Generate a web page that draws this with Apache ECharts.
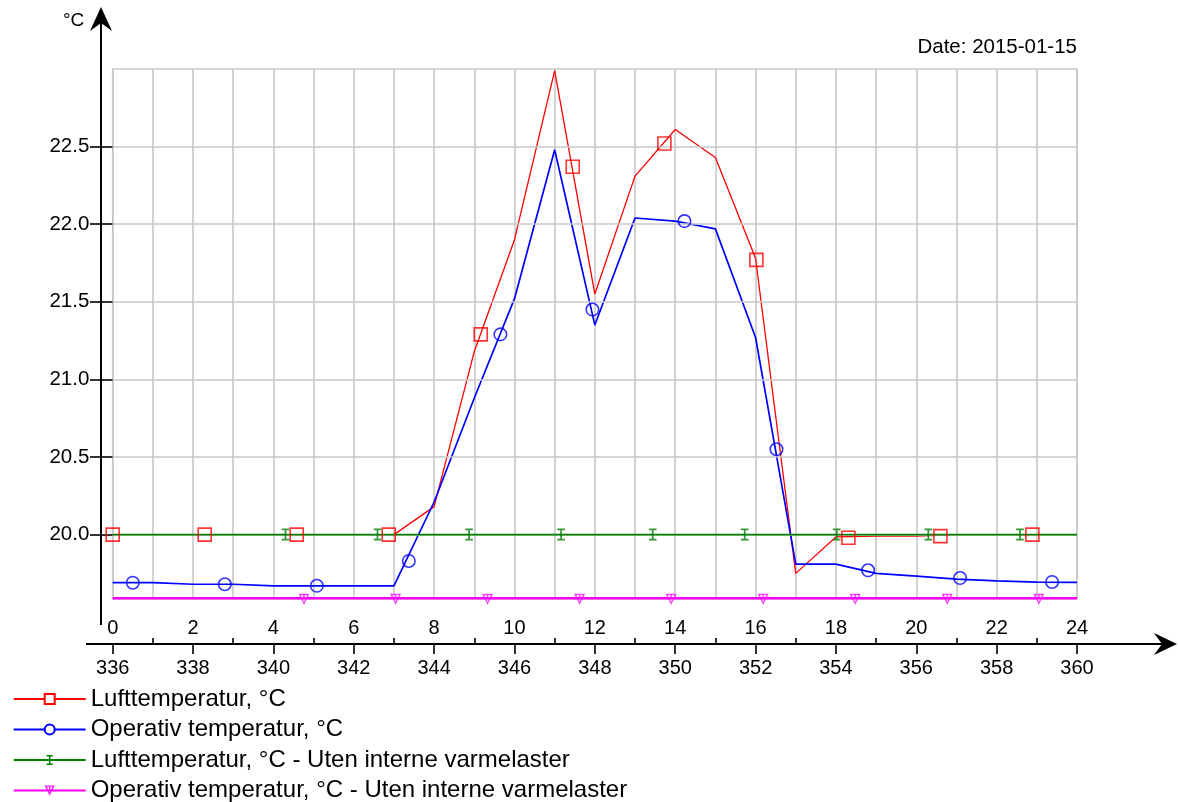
<!DOCTYPE html>
<html><head><meta charset="utf-8">
<script src="https://cdn.jsdelivr.net/npm/echarts@6/dist/echarts.min.js"></script>
<style>html,body{margin:0;padding:0;background:#fff}#c{width:1178px;height:802px}</style>
</head><body><div id="c"></div>
<script>
// ---- data ----
const hours = [0,1,2,3,4,5,6,7,8,9,10,11,12,13,14,15,16,17,18,19,20,21,22,23,24];
const lufttemp = [20.0,20.0,20.0,20.0,20.0,20.0,20.0,20.0,20.18,21.18,21.9,22.99,21.55,22.31,22.61,22.43,21.78,19.75,19.985,19.99,19.99,20.0,20.0,20.0,20.0];
const operativ = [19.69,19.69,19.68,19.68,19.67,19.67,19.67,19.67,20.21,20.88,21.52,22.48,21.35,22.04,22.02,21.97,21.27,19.81,19.81,19.75,19.733,19.713,19.702,19.694,19.692];
const lufttempUten = [20.0,20.0,20.0,20.0,20.0,20.0,20.0,20.0,20.0,20.0,20.0,20.0,20.0,20.0,20.0,20.0,20.0,20.0,20.0,20.0,20.0,20.0,20.0,20.0,20.0];
const operativUten = [19.59,19.59,19.59,19.59,19.59,19.59,19.59,19.59,19.59,19.59,19.59,19.59,19.59,19.59,19.59,19.59,19.59,19.59,19.59,19.59,19.59,19.59,19.59,19.59,19.59];

// marker positions along the curves (as drawn in the reference)
const redMarkX = [0.0,2.29,4.58,6.87,9.16,11.45,13.73,16.02,18.31,20.6,22.89];
const redMarkY = [20.0,20.0,20.0,20.0,21.29,22.37,22.52,21.77,19.98,19.99,20.0];
const blueMarkX = [0.5,2.79,5.08,7.37,9.65,11.94,14.23,16.52,18.8,21.09,23.38];
const blueMarkY = [19.69,19.68,19.67,19.83,21.29,21.45,22.02,20.55,19.77,19.72,19.695];
const greenMarkX = [4.3,6.59,8.87,11.16,13.44,15.73,18.02,20.3,22.58];
const greenMarkY = [20.0,20.0,20.0,20.0,20.0,20.0,20.0,20.0,20.0];
const magMarkX = [4.76,7.04,9.33,11.62,13.9,16.19,18.48,20.77,23.05];
const magMarkY = [19.59,19.59,19.59,19.59,19.59,19.59,19.59,19.59,19.59];

const xMajorTicks = [0,2,4,6,8,10,12,14,16,18,20,22,24];
const xMinorTicks = [1,3,5,7,9,11,13,15,17,19,21,23];
const xOffsetLabel = 336;
const yTicks = [20.0,20.5,21.0,21.5,22.0,22.5];
const yMin = 19.585, yMax = 23.0;

const names = ['Lufttemperatur, °C','Operativ temperatur, °C','Lufttemperatur, °C - Uten interne varmelaster','Operativ temperatur, °C - Uten interne varmelaster'];
const colors = ['#ff0000','#0000ff','#008000','#ff00ff'];

// ---- chart ----
const FONT = 'Liberation Sans, Arial, sans-serif';
const zip = (a,b)=>a.map((v,i)=>[v,b[i]]);
const iPath = 'path://M0,0L0.01,0M11,11L11.01,11M2,0H9V1.6H6.3V9.4H9V11H2V9.4H4.7V1.6H2Z';
const triPath = 'path://M0,0L11,0L5.5,11ZM2.2,1.2L5.5,8.2L8.8,1.2ZM4.8,1.2H6.2V5H4.8Z';

const chart = echarts.init(document.getElementById('c'), null, {renderer:'canvas'});
const gridLeft = 112.7, gridTop = 69, gridRight = 1178-1077, gridBottom = 802-599;

chart.setOption({
  animation:false,
  backgroundColor:'#fff',
  textStyle:{fontFamily:FONT},
  title:{text:'Date: 2015-01-15', right:101, top:37, padding:0,
    textStyle:{fontSize:20.5, fontWeight:'normal', color:'#000', fontFamily:FONT}},
  legend:{orient:'vertical', left:12.7, top:687, height:150, itemWidth:72, itemHeight:12.5, itemGap:6.5,
    data:names, selectedMode:false, padding:0,
    textStyle:{fontSize:24, color:'#000', fontFamily:FONT}},
  grid:{left:gridLeft, top:gridTop, right:gridRight, bottom:gridBottom, show:true,
    borderColor:'#c8c8c8', borderWidth:1.6, backgroundColor:'transparent'},
  xAxis:[
    {type:'value', min:0, max:24, position:'bottom', offset:45,
      axisLine:{show:false}, splitLine:{show:false},
      axisTick:{show:true, customValues:xMajorTicks, length:10, lineStyle:{color:'#000', width:1.6}},
      axisLabel:{show:true, customValues:xMajorTicks, margin:14, fontSize:20, color:'#000', fontFamily:FONT,
        formatter:v=>String(v+xOffsetLabel)}},
    {type:'value', min:0, max:24, position:'bottom', offset:45,
      axisLine:{show:false}, splitLine:{show:false},
      axisTick:{show:true, inside:true, customValues:xMinorTicks, length:6, lineStyle:{color:'#000', width:1.6}},
      axisLabel:{show:true, inside:true, customValues:xMajorTicks, margin:6, fontSize:20, color:'#000', fontFamily:FONT,
        formatter:v=>String(v)}},
    {type:'value', min:0, max:24, interval:1, position:'bottom',
      axisLine:{show:false}, axisTick:{show:false}, axisLabel:{show:false},
      splitLine:{show:true, lineStyle:{color:'#c8c8c8', width:1.6}}}
  ],
  yAxis:[
    {type:'value', min:yMin, max:yMax, position:'left', offset:0,
      axisLine:{show:false}, splitLine:{show:false},
      axisTick:{show:true, customValues:yTicks, length:22.7, lineStyle:{color:'#000', width:1.6}},
      axisLabel:{show:true, customValues:yTicks, margin:23.4, fontSize:20.5, color:'#000', fontFamily:FONT,
        formatter:v=>v.toFixed(1)}}
  ],
  graphic:[
    {type:'text', left:63, top:11, z:10,
      style:{text:'°C', fontSize:19, fontFamily:FONT, fill:'#000'}},
    {type:'line', shape:{x1:101, y1:625, x2:101, y2:14}, style:{stroke:'#000', lineWidth:2}, z:10},
    {type:'polygon', shape:{points:[[101,7],[90,31],[101,23],[112,31]]}, style:{fill:'#000'}, z:10},
    {type:'line', shape:{x1:86, y1:644, x2:1170, y2:644}, style:{stroke:'#000', lineWidth:2}, z:10},
    {type:'polygon', shape:{points:[[1177,644],[1154,633],[1162,644],[1154,655]]}, style:{fill:'#000'}, z:10}
  ],
  series:[
    {type:'line', name:'_grid', data:[], z:1, silent:true,
      markLine:{silent:true, symbol:['none','none'], label:{show:false},
        lineStyle:{color:'#c8c8c8', width:1.6, type:'solid'},
        data:yTicks.map(v=>({yAxis:v}))}},
    {type:'line', name:names[0], data:zip(hours,lufttemp), symbol:'emptyRect', showSymbol:false,
      lineStyle:{color:colors[0], width:1.3}, itemStyle:{color:colors[0]}, z:3},
    {type:'line', name:names[1], data:zip(hours,operativ), symbol:'emptyCircle', showSymbol:false,
      lineStyle:{color:colors[1], width:1.7}, itemStyle:{color:colors[1]}, z:4},
    {type:'line', name:names[2], data:zip(hours,lufttempUten), symbol:iPath, showSymbol:false,
      lineStyle:{color:colors[2], width:1.8}, itemStyle:{color:colors[2]}, z:5},
    {type:'line', name:names[3], data:zip(hours,operativUten), symbol:triPath, showSymbol:false,
      lineStyle:{color:colors[3], width:2.4}, itemStyle:{color:colors[3]}, z:6},
    {type:'scatter', name:'m_red', data:zip(redMarkX,redMarkY), symbol:'rect', symbolSize:13,
      itemStyle:{color:'transparent', borderColor:colors[0], borderWidth:1.6}, z:7, silent:true},
    {type:'scatter', name:'m_blue', data:zip(blueMarkX,blueMarkY), symbol:'circle', symbolSize:12.5,
      itemStyle:{color:'transparent', borderColor:colors[1], borderWidth:1.6}, z:7, silent:true},
    {type:'scatter', name:'m_green', data:zip(greenMarkX,greenMarkY), symbol:iPath, symbolSize:12,
      itemStyle:{color:colors[2]}, z:7, silent:true},
    {type:'scatter', name:'m_mag', data:zip(magMarkX,magMarkY), symbol:triPath, symbolSize:11, symbolOffset:[0,1],
      itemStyle:{color:colors[3]}, z:7, silent:true}
  ]
});
</script></body></html>
